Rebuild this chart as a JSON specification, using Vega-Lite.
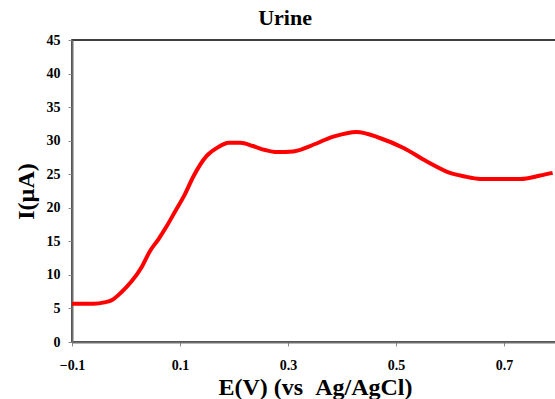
{
  "$schema": "https://vega.github.io/schema/vega-lite/v6.json",
  "autosize": {"type": "none"},
  "padding": {"left": 72, "top": 40, "right": 0, "bottom": 57},
  "width": 486,
  "height": 302,
  "background": "white",
  "title": {
    "text": "Urine",
    "font": "Liberation Serif",
    "fontSize": 22,
    "fontWeight": "bold",
    "color": "black",
    "anchor": "middle",
    "dx": -30,
    "offset": 3
  },
  "config": {
    "view": {"stroke": "black", "strokeWidth": 1.5},
    "axis": {
      "labelFont": "Liberation Serif",
      "labelFontWeight": "bold",
      "labelFontSize": 14,
      "labelColor": "black",
      "titleFont": "Liberation Serif",
      "titleFontWeight": "bold",
      "titleFontSize": 24,
      "titleColor": "black",
      "domainColor": "#6e6e6e",
      "domainWidth": 2,
      "tickColor": "#8a8a8a",
      "tickWidth": 1,
      "tickSize": 4,
      "grid": false
    }
  },
  "data": {
    "values": [
      {"E": -0.1, "I": 5.7},
      {"E": -0.06, "I": 5.7},
      {"E": -0.04, "I": 5.9},
      {"E": -0.025, "I": 6.3},
      {"E": -0.01, "I": 7.3},
      {"E": 0.01, "I": 9.0},
      {"E": 0.03, "I": 11.3},
      {"E": 0.044, "I": 13.5},
      {"E": 0.06, "I": 15.3},
      {"E": 0.075, "I": 17.2},
      {"E": 0.092, "I": 19.6},
      {"E": 0.109, "I": 22.0},
      {"E": 0.125, "I": 24.7},
      {"E": 0.149, "I": 27.7},
      {"E": 0.17, "I": 29.0},
      {"E": 0.19, "I": 29.7},
      {"E": 0.212, "I": 29.7},
      {"E": 0.235, "I": 29.2},
      {"E": 0.258, "I": 28.6},
      {"E": 0.279, "I": 28.3},
      {"E": 0.31, "I": 28.4},
      {"E": 0.341, "I": 29.2},
      {"E": 0.384, "I": 30.6},
      {"E": 0.427, "I": 31.3},
      {"E": 0.47, "I": 30.4},
      {"E": 0.514, "I": 28.9},
      {"E": 0.557, "I": 26.9},
      {"E": 0.6, "I": 25.2},
      {"E": 0.625, "I": 24.7},
      {"E": 0.656, "I": 24.3},
      {"E": 0.73, "I": 24.3},
      {"E": 0.767, "I": 24.8},
      {"E": 0.79, "I": 25.2}
    ]
  },
  "mark": {"type": "line", "color": "#ff0000", "strokeWidth": 4, "interpolate": "monotone", "clip": true},
  "encoding": {
    "x": {
      "field": "E",
      "type": "quantitative",
      "scale": {"domain": [-0.1, 0.8], "nice": false, "zero": false},
      "axis": {
        "title": "E(V) (vs\u00a0\u00a0Ag/AgCl)",
        "values": [-0.1, 0.1, 0.3, 0.5, 0.7],
        "format": ".1f",
        "labelPadding": 12,
        "titlePadding": 3,
        "labelFlush": false
      }
    },
    "y": {
      "field": "I",
      "type": "quantitative",
      "scale": {"domain": [0, 45], "nice": false},
      "axis": {
        "title": "I(µA)",
        "values": [0, 5, 10, 15, 20, 25, 30, 35, 40, 45],
        "labelPadding": 8,
        "titlePadding": 8
      }
    }
  }
}
